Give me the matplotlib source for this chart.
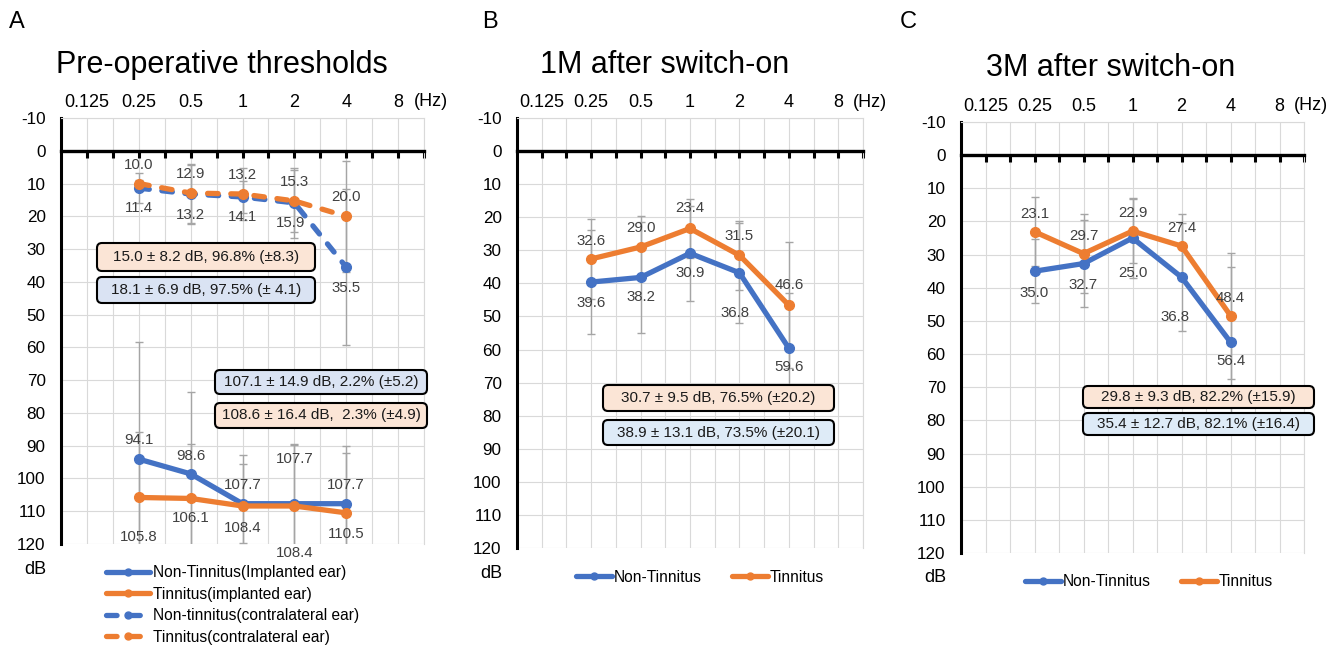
import numpy as np
import matplotlib
matplotlib.use('Agg')
import matplotlib.pyplot as plt
from matplotlib.lines import Line2D
from matplotlib.patches import FancyBboxPatch
from matplotlib.ticker import FixedLocator, NullFormatter

plt.rcParams['font.family'] = ['Liberation Sans', 'DejaVu Sans']
plt.rcParams['axes.unicode_minus'] = False

# ---- data ----
freqs = [0.25, 0.5, 1, 2, 4]
tick_freqs = [0.125, 0.25, 0.5, 1, 2, 4, 8]
tick_labels = ['0.125', '0.25', '0.5', '1', '2', '4', '8']
db_ticks = list(range(-10, 121, 10))

# A: pre-operative thresholds
pre_nt_impl = [94.1, 98.6, 107.7, 107.7, 107.7]
pre_nt_impl_sd = [35.7, 25.0, 12.0, 18.0, 15.6]
pre_t_impl = [105.8, 106.1, 108.4, 108.4, 110.5]
pre_t_impl_sd = [20.0, 16.5, 15.7, 18.8, 20.3]
pre_nt_contra = [11.4, 13.2, 14.1, 15.9, 35.5]
pre_nt_contra_sd = [4.5, 9.0, 5.0, 10.7, 23.9]
pre_t_contra = [10.0, 12.9, 13.2, 15.3, 20.0]
pre_t_contra_sd = [1.0, 9.0, 8.0, 9.5, 17.0]

# B: 1 month after switch-on
m1_nt = [39.6, 38.2, 30.9, 36.8, 59.6]
m1_nt_sd = [15.8, 16.8, 14.3, 15.2, 16.6]
m1_t = [32.6, 29.0, 23.4, 31.5, 46.6]
m1_t_sd = [12.1, 9.5, 9.0, 10.5, 19.0]

# C: 3 months after switch-on
m3_nt = [35.0, 32.7, 25.0, 36.8, 56.4]
m3_nt_sd = [9.6, 13.2, 12.2, 16.2, 22.6]
m3_t = [23.1, 29.7, 22.9, 27.4, 48.4]
m3_t_sd = [10.4, 11.8, 9.6, 9.5, 19.0]

titles = ['Pre-operative thresholds', '1M after switch-on', '3M after switch-on']
letters = ['A', 'B', 'C']
legend_a = ['Non-Tinnitus(Implanted ear)', 'Tinnitus(implanted ear)',
            'Non-tinnitus(contralateral ear)', 'Tinnitus(contralateral ear)']
legend_bc = ['Non-Tinnitus', 'Tinnitus']

box_a = ['15.0 ± 8.2 dB, 96.8% (±8.3)', '18.1 ± 6.9 dB, 97.5% (± 4.1)',
         '107.1 ± 14.9 dB, 2.2% (±5.2)', '108.6 ± 16.4 dB,  2.3% (±4.9)']
box_b = ['30.7 ± 9.5 dB, 76.5% (±20.2)', '38.9 ± 13.1 dB, 73.5% (±20.1)']
box_c = ['29.8 ± 9.3 dB, 82.2% (±15.9)', '35.4 ± 12.7 dB, 82.1% (±16.4)']

# ---- style ----
BLUE = '#4472C4'
ORANGE = '#ED7D31'
GREY = '#A5A5A5'
PEACH_BG = '#FBE5D6'
BLUE_BG_A = '#DAE3F3'
BLUE_BG = '#DEEBF7'
LBL = '#404040'
W, H = 1338, 664
LW = 3.8
DASH = (0, (2.0, 2.4))

fig = plt.figure(figsize=(W / 100, H / 100), dpi=100)


def px_axes(l, r, t, b):
    return fig.add_axes([l / W, 1 - b / H, (r - l) / W, (b - t) / H])


def setup(ax):
    ax.set_xscale('log', base=2)
    ax.set_xlim(0.125 / np.sqrt(2), 8 * np.sqrt(2))
    ax.set_ylim(120, -10)
    ax.set_yticks(db_ticks)
    ax.xaxis.set_major_locator(FixedLocator(tick_freqs))
    ax.set_xticklabels(tick_labels)
    ax.xaxis.set_minor_locator(FixedLocator([f * np.sqrt(2) for f in tick_freqs]))
    ax.xaxis.set_minor_formatter(NullFormatter())
    ax.grid(which='both', axis='x', color='#D9D9D9', lw=0.8)
    ax.grid(which='major', axis='y', color='#D9D9D9', lw=0.8)
    ax.set_axisbelow(True)
    ax.spines['bottom'].set_position(('data', 0))
    ax.spines['bottom'].set_linewidth(2.4)
    ax.spines['left'].set_linewidth(2.2)
    for s in ['top', 'right']:
        ax.spines[s].set_color('#D9D9D9')
        ax.spines[s].set_linewidth(0.8)
    ax.tick_params(axis='x', which='both', direction='out', length=5, width=2.2,
                   bottom=True, top=False, labelbottom=False, labeltop=True,
                   labelsize=13, pad=0)
    ax.tick_params(axis='y', length=0, labelsize=12.3, pad=11)
    ax.annotate('(Hz)', xy=(1, 1), xycoords='axes fraction', xytext=(7, 16),
                textcoords='offset pixels', ha='center', va='center', fontsize=13)
    ax.annotate('dB', xy=(0, 0), xycoords='axes fraction', xytext=(-26, -25),
                textcoords='offset pixels', ha='center', va='center', fontsize=13)


def series(ax, y, sd, color, offs, ls='-', dx=None, z=3):
    ax.errorbar(freqs, y, yerr=sd, fmt='none', ecolor=GREY, elinewidth=1,
                capsize=3, capthick=1, zorder=2)
    ax.plot(freqs, y, color=color, lw=LW, ls=ls, marker='o', ms=7,
            solid_capstyle='round', dash_capstyle='round', zorder=z)
    dx = dx or [0] * len(y)
    for f, v, o, d in zip(freqs, y, offs, dx):
        ax.annotate(f'{v:.1f}', xy=(f, v), xytext=(d, -o), textcoords='offset pixels',
                    ha='center', va='center', fontsize=10.8, color=LBL,
                    annotation_clip=False, zorder=5)


def box(x0, x1, y0, y1, text, bg):
    fig.add_artist(FancyBboxPatch((x0, H - y1), x1 - x0, y1 - y0,
                                  boxstyle='round,pad=0,rounding_size=5',
                                  fc=bg, ec='black', lw=1.5, transform=None, zorder=4))
    fig.text((x0 + x1) / 2 / W, 1 - (y0 + y1) / 2 / H, text, ha='center',
             va='center', fontsize=11, color='#1a1a1a', zorder=5)


axA = px_axes(61, 424, 118, 544)
axB = px_axes(517, 863, 118, 548)
axC = px_axes(961, 1304, 122, 553)
for ax in (axA, axB, axC):
    setup(ax)

# panel A
series(axA, pre_nt_impl, pre_nt_impl_sd, BLUE, [-19, -18, -19, -45, -19])
series(axA, pre_t_impl, pre_t_impl_sd, ORANGE, [40, 20, 22, 47, 21])
series(axA, pre_nt_contra, pre_nt_contra_sd, BLUE, [20, 21, 20, 20, 21], ls=DASH,
       dx=[0, 0, 0, -4, 0])
series(axA, pre_t_contra, pre_t_contra_sd, ORANGE, [-19] * 5, ls=DASH, z=4)

# panel B
series(axB, m1_nt, m1_nt_sd, BLUE, [21, 20, 20, 40, 19], dx=[0, 0, 0, -4, 0])
series(axB, m1_t, m1_t_sd, ORANGE, [-18, -19, -20, -19, -20], z=4)

# panel C
series(axC, m3_nt, m3_nt_sd, BLUE, [22, 21, 35, 40, 19], dx=[0, 0, 0, -7, 0])
series(axC, m3_t, m3_t_sd, ORANGE, [-18] * 5, z=4)

# titles and panel letters
for cx, cy, t in [(222, 65, titles[0]), (665, 65, titles[1]), (1111, 68, titles[2])]:
    fig.text(cx / W, 1 - cy / H, t, ha='center', va='center', fontsize=22)
for cx, cy, t in [(17, 22, letters[0]), (490, 22, letters[1]), (908, 22, letters[2])]:
    fig.text(cx / W, 1 - cy / H, t, ha='center', va='center', fontsize=17)

# summary boxes
box(97, 315, 243, 271, box_a[0], PEACH_BG)
box(97, 315, 277, 303, box_a[1], BLUE_BG_A)
box(215, 427, 370, 394, box_a[2], BLUE_BG_A)
box(215, 427, 403, 428, box_a[3], PEACH_BG)
box(603, 834, 385, 411, box_b[0], PEACH_BG)
box(603, 834, 420, 445, box_b[1], BLUE_BG)
box(1083, 1314, 386, 408, box_c[0], PEACH_BG)
box(1083, 1314, 413, 435, box_c[1], BLUE_BG)


# legends
def handle(color, ls='-'):
    return Line2D([], [], color=color, lw=LW, ls=ls, marker='o', ms=5,
                  solid_capstyle='round', dash_capstyle='round')


hA = [handle(BLUE), handle(ORANGE), handle(BLUE, DASH), handle(ORANGE, DASH)]
fig.legend(hA, legend_a, loc='upper left', bbox_to_anchor=(106 / W, 1 - 565 / H),
           frameon=False, fontsize=11.2, handlelength=2.8, handletextpad=0.25,
           labelspacing=0.42, borderpad=0, borderaxespad=0)
for x, y in [(576, 577), (1025, 582)]:
    fig.legend([handle(BLUE), handle(ORANGE)], legend_bc, loc='center left',
               bbox_to_anchor=(x / W, 1 - y / H), ncol=2, frameon=False,
               fontsize=11.2, handlelength=2.3, handletextpad=0.1, columnspacing=2.0,
               borderpad=0, borderaxespad=0)

fig.savefig('out.png', dpi=100)
